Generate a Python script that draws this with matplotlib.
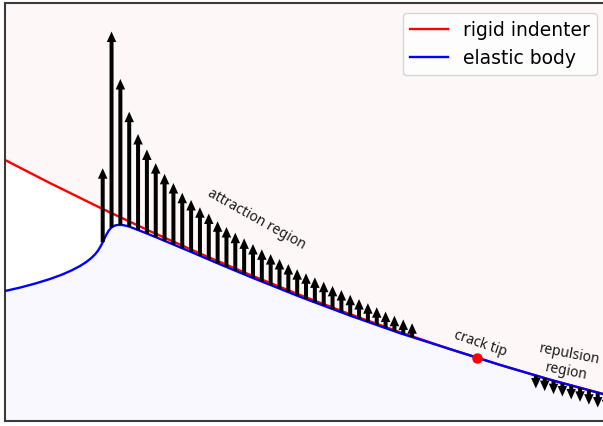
import numpy as np
import matplotlib
matplotlib.use("Agg")
import matplotlib.pyplot as plt

# ---- data (pixel-like units, y measured upward from the bottom) ----
indenter_x = [5, 50, 100, 150, 200, 250, 300, 350, 400, 450, 500, 550, 606]
indenter_y = [266.0, 242.9, 218.3, 194.8, 172.5, 151.2, 131.0, 111.8, 93.8, 76.9, 61.1, 46.3, 31.2]

body_x = [5, 20, 35, 50, 62, 72, 80, 86, 91, 95, 98, 100.5, 102.5, 104.5, 106.5, 108.5,
          110.5, 113, 116, 119, 123, 128, 135, 145, 160, 190, 220, 250, 300, 350, 400,
          450, 500, 550, 606]
body_y = [135, 138.4, 142.4, 147, 151.4, 155.8, 160, 163.8, 167.7, 171.6, 175.4, 179.5,
          183.4, 187.6, 191.6, 195, 197.6, 199.7, 200.8, 201.1, 200.9, 199.8, 197.2, 193.3,
          187.1, 174.5, 161.7, 149.2, 129.2, 110.4, 92.8, 76.9, 61.1, 46.3, 31.2]

# traction samples along the surface (positive = attraction, negative = repulsion)
force_x0, force_dx, n_force = 102.7, 8.84, 58
force = [74, 196, 146, 115, 96, 84, 74, 67, 61.5, 55.5, 52, 48.5, 46, 42, 40, 38, 36, 34,
         32.2, 31, 29.6, 28.1, 26.5, 25.8, 25, 24, 23.2, 22.3, 20.9, 19.7, 18.7, 17.8,
         16.6, 15.5, 14.8, 13.8,
         0, 0, 0, 0, 0, 0, 0, 0, 0, 0, 0, 0, 0,
         -13, -13, -13.5, -13.5, -14, -14, -14.5, -15, -15.5]

crack_tip = (477, 68.3)
legend_labels = ["rigid indenter", "elastic body"]

# ---- figure ----
W, H = 603, 426
fig = plt.figure(figsize=(W / 100, H / 100), dpi=100)
ax = fig.add_axes([5 / W, 5 / H, 601 / W, 418 / H])
ax.set_xlim(5, 606)
ax.set_ylim(5, 423)
ax.set_xticks([])
ax.set_yticks([])
for s in ax.spines.values():
    s.set_color("#3a3a3a")
    s.set_linewidth(1.5)

ax.fill_between(indenter_x, indenter_y, 423, color="#fdf8f7", lw=0, zorder=0)
ax.fill_between(body_x, 5, body_y, color="#f8f8fe", lw=0, zorder=0)

ax.plot(indenter_x, indenter_y, color="red", lw=1.7, label=legend_labels[0], zorder=2)
ax.plot(body_x, body_y, color="blue", lw=1.7, label=legend_labels[1], zorder=3,
        solid_joinstyle="round")

fx = force_x0 + force_dx * np.arange(n_force)
base = np.interp(fx, body_x, body_y)
for x, b, f in zip(fx, base, force):
    if f == 0:
        continue
    ax.arrow(x, b, 0, f, width=4.0, head_width=9.5, head_length=10.5,
             length_includes_head=True, color="black", lw=0, zorder=4)

ax.plot(*crack_tip, "o", color="red", ms=6.5, zorder=5)

tkw = dict(family="Noto Sans", fontsize=10, color="#1a1a1a", ha="center", va="center",
           rotation_mode="anchor")
ax.text(257, 207, "attraction region", rotation=-29.3, **tkw)
ax.text(480, 82, "crack tip", rotation=-19, **tkw)
ax.text(568, 63, "repulsion\nregion", rotation=-11, multialignment="center", **tkw)

ax.legend(loc="upper right", bbox_to_anchor=(597, 413), bbox_transform=ax.transData,
          borderaxespad=0, fontsize=13.5)

fig.savefig("out.png", dpi=100)
